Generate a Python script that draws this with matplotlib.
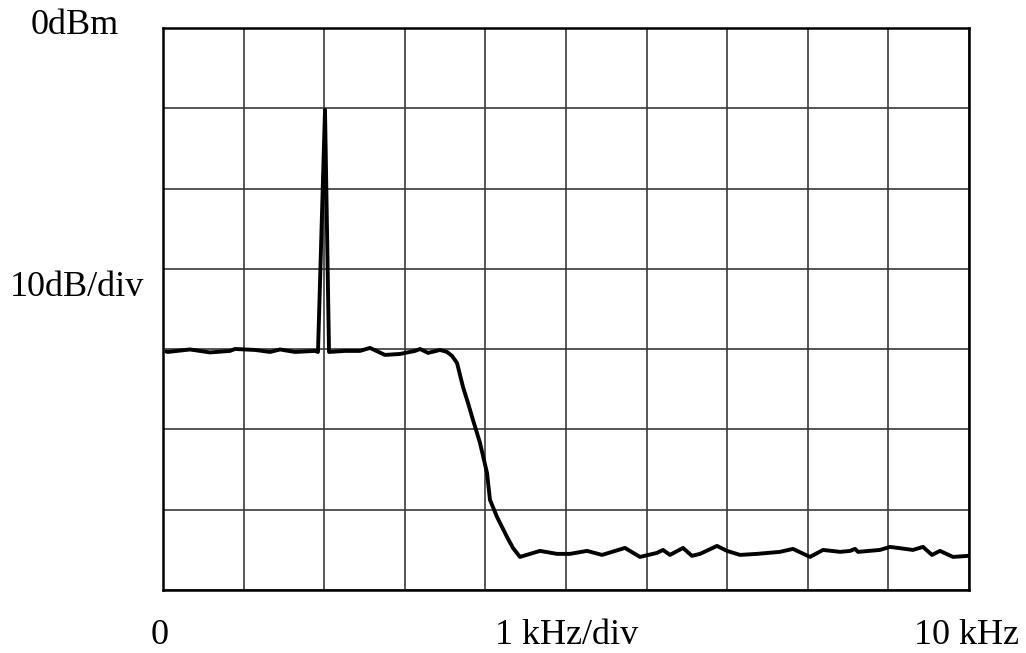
import matplotlib
matplotlib.use("Agg")
import matplotlib.pyplot as plt

# Spectrum trace: frequency (kHz) and level (dBm)
freq_khz = [0.04, 0.06, 0.335, 0.583, 0.831, 0.893, 1.141, 1.328, 1.452, 1.638, 1.886, 1.923,
            2.01, 2.06, 2.258, 2.444, 2.568, 2.754, 2.940, 3.127, 3.189, 3.288, 3.437, 3.524,
            3.586, 3.648, 3.722, 3.784, 3.846, 3.933, 4.020, 4.057, 4.144, 4.268, 4.342, 4.429,
            4.677, 4.888, 5.050,
            5.261, 5.447, 5.732, 5.918, 6.129, 6.203, 6.290, 6.452, 6.563, 6.663, 6.873, 6.998,
            7.159, 7.370, 7.655, 7.816, 8.027, 8.189, 8.400, 8.524, 8.586, 8.623, 8.896, 9.020,
            9.305, 9.429, 9.541, 9.640, 9.801, 9.988]
level_dbm = [-40.3, -40.35, -40.04, -40.41, -40.22, -39.98, -40.10, -40.35, -40.04, -40.35, -40.22, -40.35,
             -10.2, -40.35, -40.22, -40.22, -39.85, -40.72, -40.60, -40.22, -39.98, -40.47, -40.10, -40.35,
             -40.85, -41.72, -44.71, -46.70, -48.82, -51.68, -55.42, -58.78, -60.90, -63.39, -64.76, -65.88,
             -65.13, -65.50, -65.50,
             -65.13, -65.63, -64.76, -65.88, -65.38, -65.01, -65.63, -64.76, -65.75, -65.50, -64.51, -65.13,
             -65.63, -65.50, -65.25, -64.88, -65.88, -65.01, -65.25, -65.13, -64.88, -65.25, -65.01, -64.63,
             -65.01, -64.63, -65.63, -65.13, -65.88, -65.75]

x_divisions = 10
y_divisions = 7
db_per_div = 10

W, H = 1026, 653
fig = plt.figure(figsize=(W/100, H/100), dpi=100)
ax = fig.add_axes([163/W, 1-590/H, (969-163)/W, (590-28)/H])

ax.set_xlim(0, x_divisions)
ax.set_ylim(-y_divisions*db_per_div, 0)
ax.set_xticks(range(0, x_divisions+1))
ax.set_yticks(range(-y_divisions*db_per_div, 1, db_per_div))
ax.grid(True, color="#3a3a3a", linewidth=1.2)
ax.tick_params(length=0, labelbottom=False, labelleft=False)
for s in ax.spines.values():
    s.set_linewidth(1.8)
    s.set_color("black")

ax.plot(freq_khz, level_dbm, color="black", linewidth=2.8,
        solid_joinstyle="round", solid_capstyle="round")

serif = ["Liberation Serif", "DejaVu Serif"]
fs = 26
def label(x, y, s):
    fig.text(x/W, 1-y/H, s, family=serif, fontsize=fs, ha="center", va="baseline")

label(75, 34, "0dBm")
label(77, 296, "10dB/div")
label(160, 644, "0")
label(567, 644, "1 kHz/div")
label(967, 644, "10 kHz")

fig.savefig("out.png", dpi=100)
